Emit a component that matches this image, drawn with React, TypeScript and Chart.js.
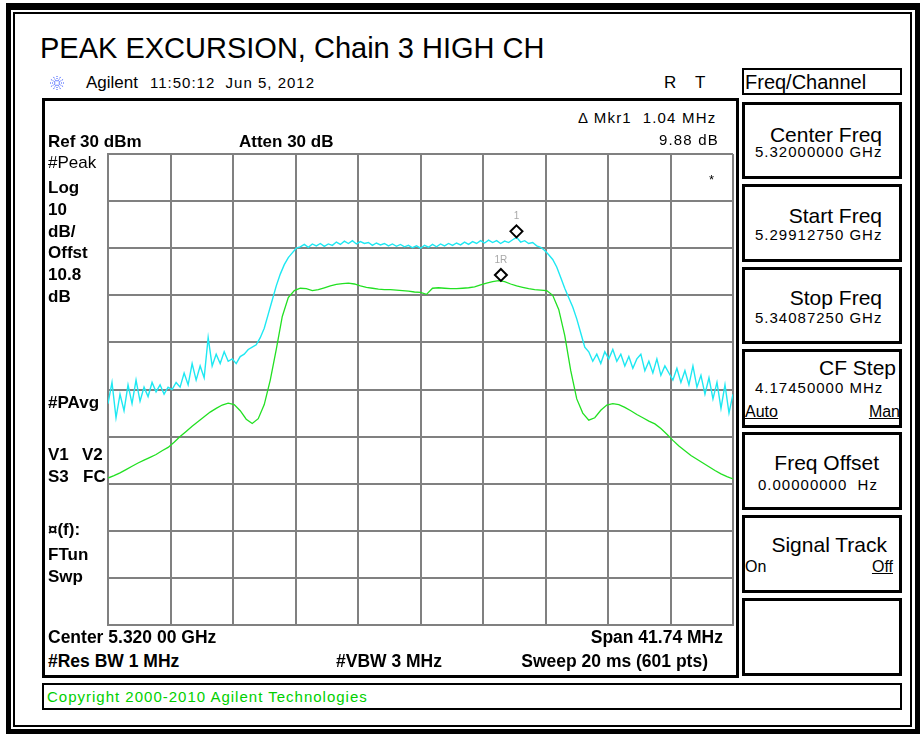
import React, { useEffect, useRef } from "react";
import { Chart, registerables } from "chart.js";
Chart.register(...registerables);

// ---------- data ----------
const START_MHZ = 5299.1275;
const STOP_MHZ = 5340.8725;
const REF_DBM = 30;
const BOTTOM_DBM = -70;
const xDivisionTicks = [5299.1275, 5303.302, 5307.4765, 5311.651, 5315.8255, 5320.0, 5324.1745, 5328.349, 5332.5235, 5336.698, 5340.8725];
const yDivisionTicks = [30, 20, 10, 0, -10, -20, -30, -40, -50, -60, -70];

// Trace 1: #Peak (cyan), sampled evenly across the span
const peakTrace = [
  -23, -18.5, -26, -21, -24.5, -19, -23, -18, -22.5, -19.5,
  -21.5, -18.5, -20.5, -19, -21, -19.5, -20, -18.5, -19.5, -16.5,
  -19, -14.5, -18, -15, -17.5, -9, -15, -12.5, -14.5, -12,
  -14, -13.5, -14.5, -13, -12.5, -11.5, -11, -10.5, -9, -7,
  -4, -1, 2, 4.5, 6.5, 8, 9, 10, 10.3, 10.8,
  10.2, 10.9, 10.5, 11.0, 10.4, 10.9, 10.6, 11.3, 10.8, 11.5,
  11.0, 11.6, 10.9, 11.4, 11.0, 11.2, 10.6, 11.1, 10.7, 11.0,
  10.5, 10.9, 10.4, 10.8, 10.3, 10.6, 10.1, 10.5, 10.0, 10.6,
  10.2, 10.8, 10.3, 10.9, 10.5, 11.0, 10.6, 11.1, 10.7, 11.3,
  10.8, 11.4, 11.0, 11.6, 11.1, 11.7, 11.2, 11.6, 11.0, 11.5,
  11.2, 11.8, 12.3, 11.3, 11.6, 11.0, 11.2, 10.5, 10.2, 9.5,
  8.6, 7.6, 6.0, 3.8, 1.5, -0.5, -2.5, -5, -8, -11,
  -12, -14, -12.5, -14.5, -12, -13.5, -11.5, -14, -12.5, -15,
  -13, -15.5, -13.5, -12.5, -16, -14, -16.5, -13.5, -17, -15,
  -16.5, -18, -15.5, -18.5, -16, -19, -15, -19.5, -17, -21,
  -17.5, -22, -18.5, -24, -19, -25, -21,
];

// Trace 2: #PAvg (green)
const avgTrace = [
  -38.8, -38.3, -37.7, -37.0, -36.3, -35.6, -35.0, -34.4, -33.8, -33.0,
  -32.3, -31.2, -30.0, -28.9, -27.8, -26.8, -25.8, -24.8, -24.0, -23.3,
  -22.9, -23.2, -24.5, -26.3, -27.2, -26.2, -23.2, -18, -11.5, -4.5,
  -0.5, 1.0, 1.5, 1.4, 1.0, 1.2, 1.6, 2.0, 2.3, 2.5,
  2.6, 2.4, 2.0, 1.7, 1.5, 1.3, 1.2, 1.2, 1.1, 1.0,
  0.9, 0.7, 0.6, 0.2, 1.5, 1.6, 1.5, 1.4, 1.4, 1.5,
  1.6, 1.8, 2.2, 2.6, 2.9, 3.1, 2.9, 2.4, 2.0, 1.7,
  1.4, 1.2, 1.1, 1.0, 0.0, -3.0, -8.5, -16, -22, -25,
  -26.5, -26, -24.4, -23.3, -23.0, -23.2, -23.8, -24.5, -25.3, -26.0,
  -26.7, -27.3, -28.3, -29.5, -30.8, -32.0, -33.0, -34.0, -34.8, -35.6,
  -36.4, -37.2, -37.9, -38.5, -39.0,
];

const markerLabels = ["1", "1R"];
const markerFreqsMHz = [5326.41, 5325.37];
const markerLevels = [12.3, 3.05];

// ---------- styles ----------
const FONT = '"Liberation Sans", Arial, sans-serif';
const CYAN = "#1ee8f2";
const GREEN = "#22e022";
const GRID = "#808080";

const toXY = (vals: number[]) =>
  vals.map((v, i) => ({ x: START_MHZ + (i * (STOP_MHZ - START_MHZ)) / (vals.length - 1), y: v }));

type TP = { x: number; y: number; s: number; b?: boolean; r?: boolean; c?: string; ls?: number; u?: boolean; children: React.ReactNode };
function Txt({ x, y, s, b, r, c, ls, u, children }: TP) {
  const style: React.CSSProperties = {
    position: "absolute",
    top: y - 0.8465 * s,
    fontSize: s,
    lineHeight: `${s}px`,
    fontWeight: b ? "bold" : "normal",
    color: c || "#000",
    whiteSpace: "pre",
    letterSpacing: ls ? `${ls}px` : undefined,
    textDecoration: u ? "underline" : undefined,
    fontFamily: FONT,
  };
  if (r) style.right = 923 - x;
  else style.left = x;
  return <div style={style}>{children}</div>;
}

function Box({ l, t, r, b, w }: { l: number; t: number; r: number; b: number; w: number }) {
  return (
    <div
      style={{
        position: "absolute",
        left: l,
        top: t,
        width: r - l,
        height: b - t,
        border: `${w}px solid #000`,
        boxSizing: "border-box",
      }}
    />
  );
}

const markerPlugin = {
  id: "markers",
  afterDatasetsDraw(chart: any) {
    const { ctx, scales } = chart;
    ctx.save();
    markerFreqsMHz.forEach((f, i) => {
      const px = scales.x.getPixelForValue(f);
      const py = scales.y.getPixelForValue(markerLevels[i]);
      const h = 6;
      ctx.beginPath();
      ctx.moveTo(px, py - 2 * h);
      ctx.lineTo(px + h, py - h);
      ctx.lineTo(px, py);
      ctx.lineTo(px - h, py - h);
      ctx.closePath();
      ctx.fillStyle = "#fff";
      ctx.fill();
      ctx.lineWidth = 2;
      ctx.strokeStyle = "#000";
      ctx.stroke();
      ctx.fillStyle = "#a8a8a8";
      ctx.font = `10px ${FONT}`;
      ctx.textAlign = "center";
      ctx.textBaseline = "alphabetic";
      ctx.fillText(markerLabels[i], px, py - 2 * h - 6);
    });
    ctx.restore();
  },
};

function Logo() {
  const rays = [0, 30, 60, 90, 120, 150, 180, 210, 240, 270, 300, 330];
  return (
    <svg style={{ position: "absolute", left: 49, top: 75 }} width={16} height={16} viewBox="-8 -8 16 16">
      {rays.map((a) => {
        const rad = (a * Math.PI) / 180;
        return (
          <line
            key={a}
            x1={Math.cos(rad) * 2}
            y1={Math.sin(rad) * 2}
            x2={Math.cos(rad) * 7}
            y2={Math.sin(rad) * 7}
            stroke="#3050ff"
            strokeWidth={1}
            strokeDasharray="1 1"
          />
        );
      })}
    </svg>
  );
}

export default function App() {
  const ref = useRef<HTMLCanvasElement | null>(null);

  useEffect(() => {
    if (!ref.current) return;
    const chart = new Chart(ref.current, {
      type: "line",
      data: {
        datasets: [
          { label: "#Peak", data: toXY(peakTrace), borderColor: CYAN, borderWidth: 1.4, pointRadius: 0, tension: 0, fill: false },
          { label: "#PAvg", data: toXY(avgTrace), borderColor: GREEN, borderWidth: 1.3, pointRadius: 0, tension: 0, fill: false },
        ],
      },
      options: {
        animation: false,
        responsive: false,
        maintainAspectRatio: false,
        events: [],
        layout: { padding: 8 },
        plugins: { legend: { display: false }, tooltip: { enabled: false } },
        scales: {
          x: {
            type: "linear",
            min: START_MHZ,
            max: STOP_MHZ,
            afterBuildTicks: (s: any) => {
              s.ticks = xDivisionTicks.map((v) => ({ value: v }));
            },
            ticks: { display: false },
            grid: { color: GRID, lineWidth: 2, drawTicks: false },
            border: { display: true, color: GRID, width: 2 },
          },
          y: {
            type: "linear",
            min: BOTTOM_DBM,
            max: REF_DBM,
            afterBuildTicks: (s: any) => {
              s.ticks = yDivisionTicks.map((v) => ({ value: v }));
            },
            ticks: { display: false },
            grid: { color: GRID, lineWidth: 2, drawTicks: false },
            border: { display: true, color: GRID, width: 2 },
          },
        },
      } as any,
      plugins: [markerPlugin],
    });
    return () => chart.destroy();
  }, []);

  const softkeys: [number, number][] = [
    [102, 179],
    [184, 262],
    [267, 344],
    [349, 428],
    [432, 510],
    [515, 593],
    [598, 676],
  ];

  return (
    <div
      style={{
        position: "absolute",
        left: 0,
        top: 0,
        width: 923,
        height: 738,
        background: "#fff",
        overflow: "hidden",
        fontFamily: FONT,
      }}
    >
      {/* window frame */}
      <div style={{ position: "absolute", left: 6, top: 3, width: 914, height: 731, borderStyle: "solid", borderColor: "#000", borderWidth: "7px 5px 5px 5px", boxSizing: "border-box" }} />
      <Box l={13} t={12} r={912} b={727} w={2} />

      <Txt x={40} y={59} s={29}>PEAK EXCURSION, Chain 3 HIGH CH</Txt>
      <Logo />
      <Txt x={86} y={88} s={17}>Agilent</Txt>
      <Txt x={150} y={88} s={15} ls={1}>11:50:12  Jun 5, 2012</Txt>
      <Txt x={664} y={88} s={17}>R</Txt>
      <Txt x={695} y={88} s={17}>T</Txt>

      {/* display panel */}
      <Box l={42} t={98} r={739} b={678} w={3} />
      <canvas ref={ref} width={641} height={487} style={{ position: "absolute", left: 100, top: 146, width: 641, height: 487 }} />

      <Txt x={578} y={123} s={15} ls={1.2}>Δ Mkr1  1.04 MHz</Txt>
      <Txt x={719} y={145} s={15} ls={1.2} r>9.88 dB</Txt>
      <Txt x={48} y={147} s={17} b>Ref 30 dBm</Txt>
      <Txt x={239} y={147} s={17} b>Atten 30 dB</Txt>
      <Txt x={709} y={184} s={13}>*</Txt>

      <Txt x={48} y={168} s={17}>#Peak</Txt>
      <Txt x={48} y={193} s={17} b>Log</Txt>
      <Txt x={48} y={215} s={17} b>10</Txt>
      <Txt x={48} y={237} s={17} b>dB/</Txt>
      <Txt x={48} y={258} s={17} b>Offst</Txt>
      <Txt x={48} y={280} s={17} b>10.8</Txt>
      <Txt x={48} y={302} s={17} b>dB</Txt>
      <Txt x={48} y={408} s={17} b>#PAvg</Txt>
      <Txt x={48} y={460} s={17} b>V1</Txt>
      <Txt x={82} y={460} s={17} b>V2</Txt>
      <Txt x={48} y={482} s={17} b>S3</Txt>
      <Txt x={83} y={482} s={17} b>FC</Txt>
      <Txt x={48} y={535} s={17} b>¤(f):</Txt>
      <Txt x={48} y={560} s={17} b>FTun</Txt>
      <Txt x={48} y={582} s={17} b>Swp</Txt>

      <Txt x={48} y={644} s={17.5} b>Center 5.320 00 GHz</Txt>
      <Txt x={723} y={644} s={17.5} b r>Span 41.74 MHz</Txt>
      <Txt x={48} y={668} s={17.5} b>#Res BW 1 MHz</Txt>
      <Txt x={336} y={668} s={17.5} b>#VBW 3 MHz</Txt>
      <Txt x={708} y={668} s={17.5} b r>Sweep 20 ms (601 pts)</Txt>

      {/* copyright bar */}
      <Box l={42} t={683} r={902} b={710} w={2} />
      <Txt x={47} y={702} s={15} ls={1} c="#00d000">Copyright 2000-2010 Agilent Technologies</Txt>

      {/* softkeys */}
      <Box l={742} t={68} r={902} b={95} w={2} />
      <Txt x={745} y={89} s={20}>Freq/Channel</Txt>
      {softkeys.map(([t, b], i) => (
        <Box key={i} l={742} t={t} r={902} b={b} w={3} />
      ))}
      <Txt x={882} y={142} s={21} r>Center Freq</Txt>
      <Txt x={755} y={157} s={15} ls={1}>5.32000000 GHz</Txt>
      <Txt x={882} y={223} s={21} r>Start Freq</Txt>
      <Txt x={755} y={240} s={15} ls={1}>5.29912750 GHz</Txt>
      <Txt x={882} y={305} s={21} r>Stop Freq</Txt>
      <Txt x={755} y={323} s={15} ls={1}>5.34087250 GHz</Txt>
      <Txt x={896} y={375} s={21} r>CF Step</Txt>
      <Txt x={755} y={393} s={15} ls={1}>4.17450000 MHz</Txt>
      <Txt x={745} y={418} s={16} u>Auto</Txt>
      <Txt x={900} y={418} s={16} u r>Man</Txt>
      <Txt x={879} y={470} s={21} r>Freq Offset</Txt>
      <Txt x={758} y={490} s={15} ls={1}>0.00000000  Hz</Txt>
      <Txt x={887} y={552} s={21} r>Signal Track</Txt>
      <Txt x={745} y={573} s={16}>On</Txt>
      <Txt x={893} y={573} s={16} u r>Off</Txt>
    </div>
  );
}
